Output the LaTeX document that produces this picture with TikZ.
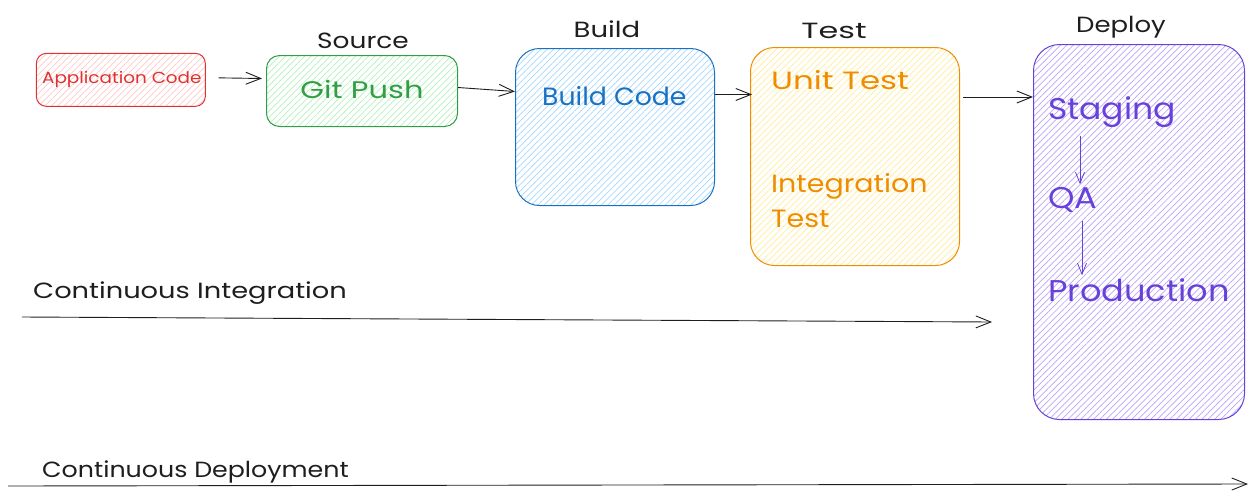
\documentclass[tikz,border=0pt]{standalone}
\usepackage{fontspec}
\setmainfont{Poppins}
\usetikzlibrary{arrows.meta,patterns.meta,calc}
\definecolor{ink}{HTML}{1E1E1E}
\definecolor{cred}{HTML}{E03131}
\definecolor{fred}{HTML}{FFC9C9}
\definecolor{cgreen}{HTML}{2F9E44}
\definecolor{fgreen}{HTML}{B2F2BB}
\definecolor{cblue}{HTML}{1971C2}
\definecolor{fblue}{HTML}{A5D8FF}
\definecolor{corange}{HTML}{F08C00}
\definecolor{forange}{HTML}{FFEC99}
\definecolor{cviolet}{HTML}{6741D9}
\definecolor{fviolet}{HTML}{B9A5F5}
\newcommand{\hs}[2]{\scalebox{#1}[1]{#2}}
\begin{document}
\begin{tikzpicture}[x=1pt,y=-1pt,
  box/.style={draw, line width=1pt, rounded corners=#1, inner sep=0pt, anchor=north west},
  hatch/.style={pattern={Lines[angle=45,distance=4.5pt,line width=0.7pt]}, pattern color=#1},
  fs/.style={font=\fontsize{#1}{#1}\selectfont, inner sep=0pt},
  conn/.style={draw=ink, line width=0.9pt, -{Straight Barb[length=15pt,width=12pt]}},
  small/.style={draw=cviolet, line width=0.8pt, -{Straight Barb[length=11pt,width=9pt]}},
]
\useasboundingbox (0,0) rectangle (1256,501);

% boxes
\node[box=10pt, draw=cred, hatch=fred, minimum width=169pt, minimum height=53pt] (app) at (36,53) {};
\node[box=13pt, draw=cgreen, hatch=fgreen, minimum width=191pt, minimum height=71pt] (git) at (266,55) {};
\node[box=24pt, draw=cblue, hatch=fblue, minimum width=199pt, minimum height=157pt] (build) at (515,48) {};
\node[box=24pt, draw=corange, hatch=forange, minimum width=209pt, minimum height=218pt] (test) at (750,47) {};
\node[box=26pt, draw=cviolet, hatch=fviolet, minimum width=211pt, minimum height=375pt] (deploy) at (1033,44) {};

% texts in boxes
\node[fs=16, text=cred] (apptxt) at ($(app.center)+(1,0)$) {\hs{1.15}{Application Code}};
\node[fs=24, text=cgreen] (gittxt) at ($(git.center)+(0,-2)$) {\hs{1.27}{Git Push}};
\node[fs=25, text=cblue, anchor=west] (buildtxt) at (542,96) {\hs{1.07}{Build Code}};
\node[fs=25, text=corange, anchor=west] (unit) at (771,80) {\hs{1.3}{Unit Test}};
\node[fs=25, text=corange, anchor=north west, align=left] (integ) at (771,173) {\hs{1.14}{Integration}\\[10pt]\hs{1.14}{Test}};
\node[fs=30, text=cviolet, anchor=west] (staging) at (1048,112) {\hs{1.1}{Staging}};
\node[fs=30, text=cviolet, anchor=west] (qa) at (1048,200) {\hs{1.12}{QA}};
\node[fs=30, text=cviolet, anchor=west] (prod) at (1048,290) {\hs{1.12}{Production}};

% titles
\node[fs=22, text=ink] (tsource) at (363,41) {\hs{1.2}{Source}};
\node[fs=22, text=ink] (tbuild) at (607,29) {\hs{1.25}{Build}};
\node[fs=22, text=ink] (ttest) at (834,31) {\hs{1.45}{Test}};
\node[fs=22, text=ink] (tdeploy) at (1121,27) {\hs{1.18}{Deploy}};
\node[fs=22, text=ink, anchor=west] (tci) at (33,293) {\hs{1.24}{Continuous Integration}};
\node[fs=22, text=ink, anchor=west] (tcd) at (42,472) {\hs{1.15}{Continuous Deployment}};

% connectors
\draw[conn] ([xshift=13pt, yshift=2pt]app.east) -- ([xshift=-4pt, yshift=12.5pt]git.west);
\draw[conn] ([yshift=3.5pt]git.east) -- ([yshift=35.5pt]build.west);
\draw[conn] ([yshift=32.5pt]build.east) -- ([yshift=62pt, xshift=2pt]test.west);
\draw[conn] ([yshift=-50pt, xshift=3pt]test.north east) -- ([yshift=-53pt]deploy.north west);
\draw[small] ([xshift=32pt, yshift=-8pt]staging.south west) -- ([xshift=32pt, yshift=3pt]qa.north west);
\draw[small] ([xshift=34pt, yshift=-8pt]qa.south west) -- ([xshift=34pt, yshift=3pt]prod.north west);

\coordinate (cis) at (22,317);
\coordinate (cie) at (992,322);
\coordinate (cds) at (8,486);
\coordinate (cde) at (1248,484);
\draw[conn] (cis) -- (cie);
\draw[conn] (cds) -- (cde);
\end{tikzpicture}
\end{document}
